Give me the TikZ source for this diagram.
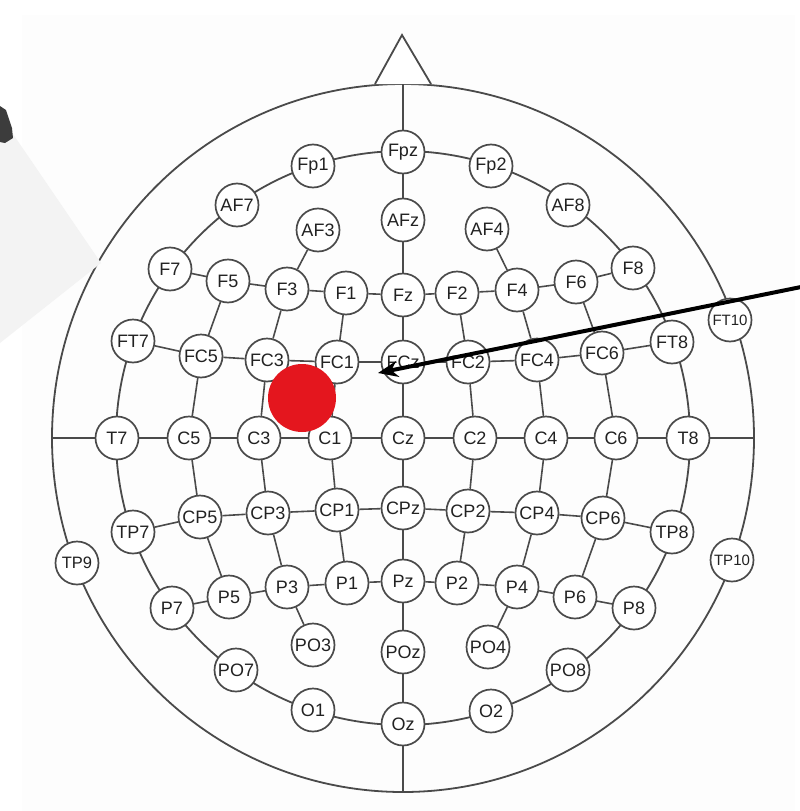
\documentclass[tikz,border=0pt]{standalone}
\usepackage{fontspec}
\setmainfont{Liberation Sans}
\usetikzlibrary{arrows.meta}
\definecolor{ln}{HTML}{4A4A4A}
\definecolor{tx}{HTML}{222222}
\definecolor{reddot}{RGB}{228,22,30}
\definecolor{bgpaper}{HTML}{FDFDFD}
\definecolor{photo}{HTML}{F3F3F3}
\definecolor{blob}{HTML}{3C3C3C}
\pgfdeclarelayer{back}
\pgfdeclarelayer{mid}
\pgfsetlayers{back,mid,main}
\begin{document}
\begin{tikzpicture}[x=1pt,y=-1pt,
  el/.style={circle,draw=ln,line width=1.7pt,fill=white,minimum size=43pt,inner sep=0pt,
    font=\fontsize{18}{18}\selectfont,text=tx},
  els/.style={el,font=\fontsize{15}{15}\selectfont},
  elm/.style={el,font=\fontsize{16.5}{16.5}\selectfont},
  wire/.style={draw=ln,line width=1.6pt},
  head/.style={draw=ln,line width=1.8pt},
  pointer/.style={draw=black,line width=4pt,-{Stealth[length=20pt,width=16pt]}}]
\useasboundingbox (0,0) rectangle (800,811);
\begin{pgfonlayer}{back}
\fill[white] (0,0) rectangle (800,811);
\fill[bgpaper] (22,15) rectangle (795,811);
\coordinate (hc) at (403,438);
\draw[head] (hc) ellipse [x radius=351, y radius=354];
\draw[head,fill=white] (375,84) -- (402,35) -- (431,84);
\draw[head] (hc) circle [radius=287];
\coordinate (vtop) at (403,84);
\coordinate (vbot) at (403,792);
\coordinate (hl) at (52,438);
\coordinate (hr) at (754,438);
\draw[wire] (vtop) -- (vbot);
\draw[wire] (hl) -- (hr);
\fill[photo] (0,128) -- (13,134) -- (101,263) -- (0,343) -- cycle;
\fill[blob] (0,106) -- (6,110) -- (12,128) -- (13,138) -- (5,143) -- (0,142) -- cycle;
\end{pgfonlayer}

% electrodes
\node[el] (Fpz) at (403,152) {Fpz};
\node[el] (Fp1) at (313,166) {Fp1};
\node[el] (Fp2) at (491,166) {Fp2};
\node[el] (AF7) at (237,205) {AF7};
\node[el] (AF3) at (318,230) {AF3};
\node[el] (AFz) at (403,220) {AFz};
\node[el] (AF4) at (487,229) {AF4};
\node[el] (AF8) at (568,205) {AF8};
\node[el] (F7) at (170,269) {F7};
\node[el] (F5) at (228,281) {F5};
\node[el] (F3) at (287,289) {F3};
\node[el] (F1) at (346,293) {F1};
\node[el] (Fz) at (403,295) {Fz};
\node[el] (F2) at (457,293) {F2};
\node[el] (F4) at (517,290) {F4};
\node[el] (F6) at (576,282) {F6};
\node[el] (F8) at (633,268) {F8};
\node[el] (FT7) at (133,341) {FT7};
\node[el] (FC5) at (201,356) {FC5};
\node[el] (FC3) at (267,360) {FC3};
\node[el] (FC1) at (337,362) {FC1};
\node[el] (FCz) at (403,362) {FCz};
\node[el] (FC2) at (468,362) {FC2};
\node[el] (FC4) at (537,360) {FC4};
\node[el] (FC6) at (602,353) {FC6};
\node[el] (FT8) at (672,342) {FT8};
\node[els] (FT10) at (730,320) {FT10};
\node[el] (T7) at (117,438) {T7};
\node[el] (C5) at (189,438) {C5};
\node[el] (C3) at (259,438) {C3};
\node[el] (C1) at (330,438) {C1};
\node[el] (Cz) at (403,438) {Cz};
\node[el] (C2) at (475,438) {C2};
\node[el] (C4) at (546,438) {C4};
\node[el] (C6) at (616,438) {C6};
\node[el] (T8) at (688,438) {T8};
\node[elm] (TP9) at (77,563) {TP9};
\node[el] (TP7) at (133,532) {TP7};
\node[el] (CP5) at (200,517) {CP5};
\node[el] (CP3) at (268,513) {CP3};
\node[el] (CP1) at (337,510) {CP1};
\node[el] (CPz) at (403,508) {CPz};
\node[el] (CP2) at (468,511) {CP2};
\node[el] (CP4) at (537,513) {CP4};
\node[el] (CP6) at (603,518) {CP6};
\node[el] (TP8) at (672,532) {TP8};
\node[els] (TP10) at (732,560) {TP10};
\node[el] (P7) at (172,608) {P7};
\node[el] (P5) at (229,597) {P5};
\node[el] (P3) at (287,587) {P3};
\node[el] (P1) at (347,583) {P1};
\node[el] (Pz) at (403,581) {Pz};
\node[el] (P2) at (457,583) {P2};
\node[el] (P4) at (517,587) {P4};
\node[el] (P6) at (575,597) {P6};
\node[el] (P8) at (634,608) {P8};
\node[el] (PO7) at (236,670) {PO7};
\node[el] (PO3) at (313,645) {PO3};
\node[el] (POz) at (403,652) {POz};
\node[el] (PO4) at (488,647) {PO4};
\node[el] (PO8) at (568,670) {PO8};
\node[el] (O1) at (313,710) {O1};
\node[el] (Oz) at (403,724) {Oz};
\node[el] (O2) at (491,711) {O2};

% connectors behind the electrodes
\begin{pgfonlayer}{mid}
\foreach \a/\b in {F7/F5,F5/F3,F3/F1,F1/Fz,Fz/F2,F2/F4,F4/F6,F6/F8,
  FT7/FC5,FC5/FC3,FC3/FC1,FC1/FCz,FCz/FC2,FC2/FC4,FC4/FC6,FC6/FT8,
  TP7/CP5,CP5/CP3,CP3/CP1,CP1/CPz,CPz/CP2,CP2/CP4,CP4/CP6,CP6/TP8,
  P7/P5,P5/P3,P3/P1,P1/Pz,Pz/P2,P2/P4,P4/P6,P6/P8,
  F5/FC5,FC5/C5,C5/CP5,CP5/P5,
  AF3/F3,F3/FC3,FC3/C3,C3/CP3,CP3/P3,P3/PO3,
  F1/FC1,FC1/C1,C1/CP1,CP1/P1,
  F2/FC2,FC2/C2,C2/CP2,CP2/P2,
  AF4/F4,F4/FC4,FC4/C4,C4/CP4,CP4/P4,P4/PO4,
  F6/FC6,FC6/C6,C6/CP6,CP6/P6}
  \draw[wire] (\a) -- (\b);
\end{pgfonlayer}

% marker and pointer
\fill[reddot] (302,398) circle [radius=34];
\coordinate (ptrstart) at (801,287);
\coordinate (ptrtip) at (378,373);
\draw[pointer] (ptrstart) -- (ptrtip);
\end{tikzpicture}
\end{document}
